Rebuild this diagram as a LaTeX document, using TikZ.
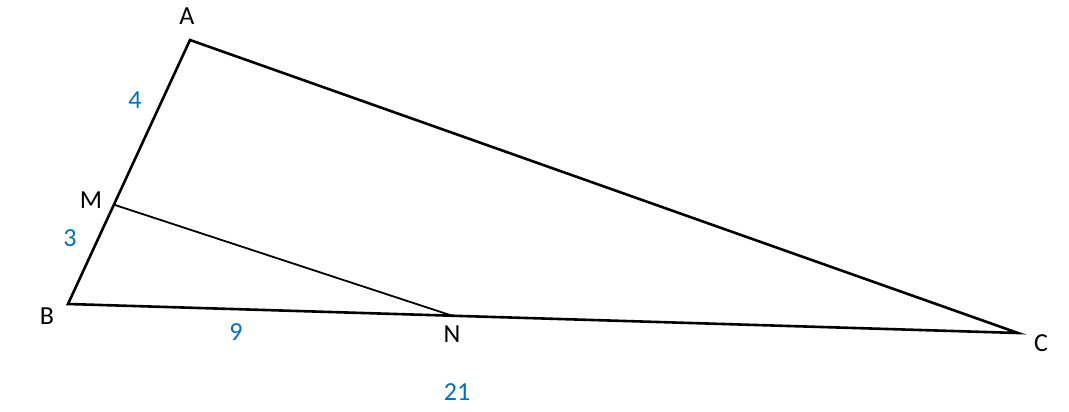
\documentclass[tikz,border=0pt]{standalone}
\usepackage{fontspec}
\setmainfont{Carlito}
\definecolor{lblblue}{HTML}{0070C0}
\begin{document}
\begin{tikzpicture}[x=1pt,y=-1pt,
  side/.style={line width=2.6pt,line join=miter},
  seg/.style={line width=1.8pt},
  ptlbl/.style={font=\fontsize{26}{30}\selectfont,text=black,inner sep=0pt},
  numlbl/.style={font=\fontsize{26}{30}\selectfont,text=lblblue,inner sep=0pt}]
\useasboundingbox (0,0) rectangle (1069,412);
\coordinate (A) at (190,40);
\coordinate (B) at (68,304);
\coordinate (C) at (1018,333);
\coordinate (M) at (115,205);
\coordinate (N) at (453,316);
\draw[side] (A) -- (B) -- (C) -- cycle;
\draw[seg] (M) -- (N);
\node[ptlbl] (lA) at (187,16) {A};
\node[ptlbl] (lB) at (47,316) {B};
\node[ptlbl] (lC) at (1041,343) {C};
\node[ptlbl] (lM) at (91,200) {M};
\node[ptlbl] (lN) at (452,334) {N};
\node[numlbl] (n4) at (135,100) {4};
\node[numlbl] (n3) at (70,238) {3};
\node[numlbl] (n9) at (236,332) {9};
\node[numlbl] (n21) at (457,392) {21};
\end{tikzpicture}
\end{document}
